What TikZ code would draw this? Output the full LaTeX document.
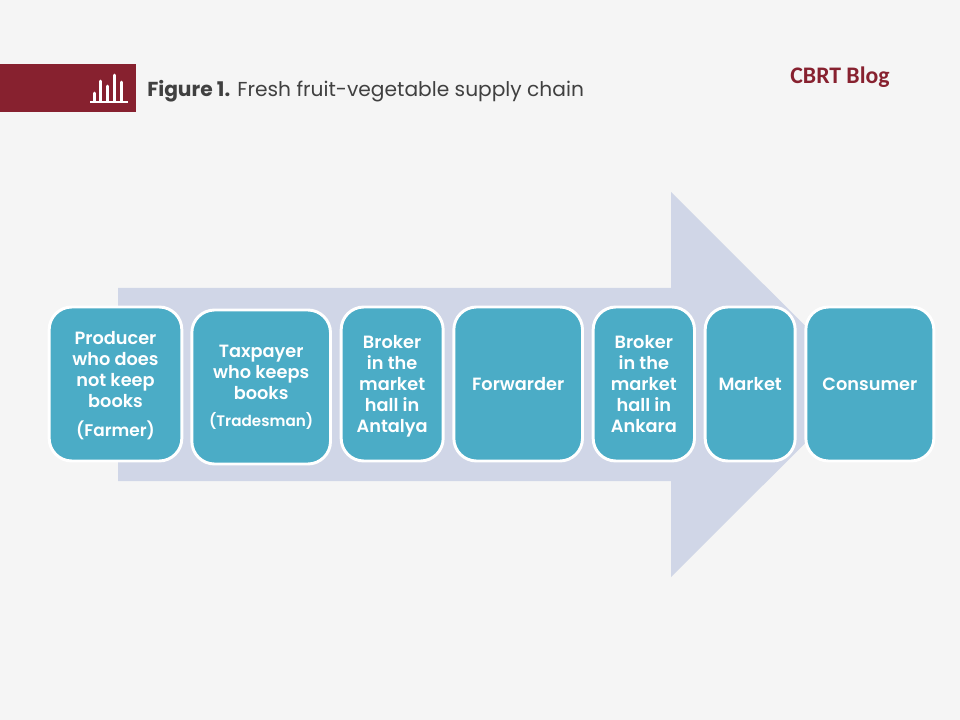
\documentclass[tikz,border=0pt]{standalone}
\usepackage{fontspec}
\setmainfont{Poppins}
\newfontfamily\blogfont{Carlito}
\newfontfamily\stepfont{Poppins SemiBold}
\usepackage{xcolor}
\definecolor{pageBg}{HTML}{F5F5F5}
\definecolor{bandRed}{HTML}{87212F}
\definecolor{stepTeal}{HTML}{4BACC6}
\definecolor{flowBlue}{HTML}{D0D6E7}
\definecolor{titleGrey}{HTML}{404040}
\usetikzlibrary{positioning}
\tikzset{%
  stepBox/.style={%
    rectangle,
    rounded corners=17pt,
    draw=white,
    line width=2.2pt,
    fill=stepTeal,
    text=white,
    font=\stepfont\fontsize{13.3}{15.7}\selectfont,
    align=center,
    minimum height=115.5pt,
    inner sep=0pt,
    outer sep=0pt
  },
  iconBar/.style={%
    draw=white,
    line width=2.2pt,
    line cap=round
  }
}

\begin{document}
\begin{tikzpicture}[x=0.75pt,y=-0.75pt]
  \fill[pageBg] (0,0) rectangle (960,720);
  \useasboundingbox (0,0) rectangle (960,720);

  % header
  \fill[bandRed] (0,64) rectangle (136,112);
  \draw[draw=white,line width=1.3pt] (90,102) -- (128,102);
  \foreach \barx/\bartop in {94.5/93, 100.5/81, 107.5/86, 114.5/75, 121.5/82}
    \draw[iconBar] (\barx,101) -- (\barx,\bartop);
  \node[anchor=west,inner sep=0pt,text=titleGrey,font=\fontsize{15.15}{18}\selectfont] (title) at (147,91.5) {\textbf{Figure 1.} Fresh fruit-vegetable supply chain};
  \node[inner sep=0pt,text=bandRed,font=\blogfont\fontsize{17.8}{21}\selectfont\bfseries] (blog) at (840,77) {CBRT Blog};

  % big arrow behind the boxes
  \fill[flowBlue] (118,288) -- (671,288) -- (671,192) -- (864,384.5) -- (671,577) -- (671,481) -- (118,481) -- cycle;

  % steps
  \node[stepBox,minimum width=99.5pt] (producer) at (115.5,384) {Producer\\who does\\not keep\\books\\[6.5pt]\smash{\fontsize{12.7}{15}\selectfont (Farmer)}};
  \node[stepBox,minimum width=104pt,right=7.5pt of producer,yshift=-2.25pt] (taxpayer) {Taxpayer\\who keeps\\books\\[4.5pt]{\fontsize{11.4}{14}\selectfont (Tradesman)}};
  \node[stepBox,minimum width=76.5pt,right=8pt of taxpayer,yshift=2.25pt] (antalya) {Broker\\in the\\market\\hall in\\\smash{Antalya}};
  \node[stepBox,minimum width=96.5pt,right=8pt of antalya] (forwarder) {Forwarder};
  \node[stepBox,minimum width=76pt,right=8pt of forwarder] (ankara) {Broker\\in the\\market\\hall in\\Ankara};
  \node[stepBox,minimum width=67.5pt,right=8pt of ankara] (market) {Market};
  \node[stepBox,minimum width=96pt,right=8pt of market] (consumer) {Consumer};
\end{tikzpicture}
\end{document}
